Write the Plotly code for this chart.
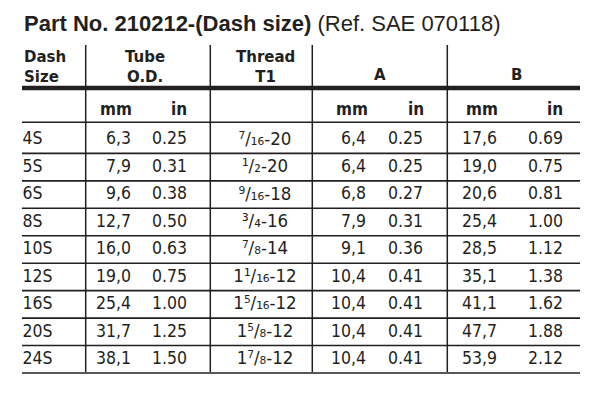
import plotly.graph_objects as go

# ---------------- data ----------------
dash_sizes = ["4S", "5S", "6S", "8S", "10S", "12S", "16S", "20S", "24S"]
tube_mm = [6.3, 7.9, 9.6, 12.7, 16.0, 19.0, 25.4, 31.7, 38.1]
tube_in = [0.25, 0.31, 0.38, 0.50, 0.63, 0.75, 1.00, 1.25, 1.50]
# thread T1: (whole, numerator, denominator, threads per inch)
thread_t1 = [("", 7, 16, 20), ("", 1, 2, 20), ("", 9, 16, 18), ("", 3, 4, 16),
             ("", 7, 8, 14), ("1", 1, 16, 12), ("1", 5, 16, 12), ("1", 5, 8, 12),
             ("1", 7, 8, 12)]
a_mm = [6.4, 6.4, 6.8, 7.9, 9.1, 10.4, 10.4, 10.4, 10.4]
a_in = [0.25, 0.25, 0.27, 0.31, 0.36, 0.41, 0.41, 0.41, 0.41]
b_mm = [17.6, 19.0, 20.6, 25.4, 28.5, 35.1, 41.1, 47.7, 53.9]
b_in = [0.69, 0.75, 0.81, 1.00, 1.12, 1.38, 1.62, 1.88, 2.12]

title_bold = "Part No. 210212-(Dash size)"
title_ref = "(Ref. SAE 070118)"
# ---------------------------------------

INK = "#231f20"
NARROW = "DejaVu Sans Condensed"
SANS = "Liberation Sans"
HEAVY = "DejaVu Sans"

W, H = 604, 412
PAGE = 8  # browser body margin: axis units == page pixels
X0, X1 = 22, 580
row0, pitch = 140.0, 27.45
n = len(dash_sizes)
row_y = [row0 + pitch * i for i in range(n)]

SUP = str.maketrans("0123456789", "⁰¹²³⁴⁵⁶⁷⁸⁹")
SUB = str.maketrans("0123456789", "₀₁₂₃₄₅₆₇₈₉")


def mm(v):
    return f"{v:.1f}".replace(".", ",")


def inch(v):
    return f"{v:.2f}"


def thread(t):
    whole, num, den, tpi = t
    return f"{whole}{str(num).translate(SUP)}/{str(den).translate(SUB)}-{tpi}"


fig = go.Figure()


def col(x, texts, pos, size=17.5):
    fig.add_trace(go.Scatter(
        x=[x] * len(texts), y=row_y, mode="text", text=texts,
        textposition=pos, textfont=dict(family=NARROW, size=size, color=INK),
        hoverinfo="skip", showlegend=False, cliponaxis=False))


col(22.5, dash_sizes, "middle right")
col(131, [mm(v) for v in tube_mm], "middle left")
col(187, [inch(v) for v in tube_in], "middle left")
col(265, [thread(t) for t in thread_t1], "middle center", 18.5)
col(366, [mm(v) for v in a_mm], "middle left")
col(423, [inch(v) for v in a_in], "middle left")
col(497, [mm(v) for v in b_mm], "middle left")
col(563, [inch(v) for v in b_in], "middle left")

# header labels
hdr = dict(family=HEAVY, size=15, color=INK)
annos = []


def ann(x, y, text, font, xanchor="center", align="center"):
    annos.append(dict(x=x, y=y, xref="x", yref="y", text=text, showarrow=False,
                      font=font, xanchor=xanchor, yanchor="middle", align=align))


ann(22, 67, "<b>Dash<br>Size</b>", hdr, "left", "left")
ann(145, 67, "<b>Tube<br>O.D.</b>", hdr)
ann(265.5, 67, "<b>Thread<br>T1</b>", hdr)
ann(380, 75, "<b>A</b>", hdr)
ann(516.5, 75, "<b>B</b>", hdr)

unit_font = dict(family=NARROW, size=17, color=INK)
for xc, t in [(116, "mm"), (179, "in"), (351.5, "mm"), (415.5, "in"),
              (481.5, "mm"), (555, "in")]:
    ann(xc, 109, f"<b>{t}</b>", unit_font)

annos.append(dict(x=22, y=23, xref="x", yref="y", showarrow=False,
                  xanchor="left", yanchor="middle",
                  text=f"<b>{title_bold}</b> {title_ref}",
                  font=dict(family=SANS, size=22, color=INK)))

# rules
shapes = []
line_c = INK
shapes.append(dict(type="line", x0=X0, x1=X1, y0=88, y1=88, xref="x", yref="y",
                   line=dict(color=line_c, width=4.3)))
hlines = [122.3] + [y + 13.4 for y in row_y]
for yy in hlines:
    shapes.append(dict(type="line", x0=X0, x1=X1, y0=yy, y1=yy, xref="x", yref="y",
                       line=dict(color=line_c, width=1.6)))
for xx in [85.7, 210.3, 312.3, 447.3]:
    shapes.append(dict(type="line", x0=xx, x1=xx, y0=45, y1=hlines[-1] - 1,
                       xref="x", yref="y", line=dict(color=line_c, width=1.5)))

fig.update_layout(
    width=W - PAGE, height=H - PAGE, margin=dict(l=0, r=0, t=0, b=0),
    paper_bgcolor="white", plot_bgcolor="white",
    xaxis=dict(range=[PAGE, W], visible=False, fixedrange=True),
    yaxis=dict(range=[H, PAGE], visible=False, fixedrange=True),
    annotations=annos, shapes=shapes, showlegend=False,
)

fig.write_html("out.html")
